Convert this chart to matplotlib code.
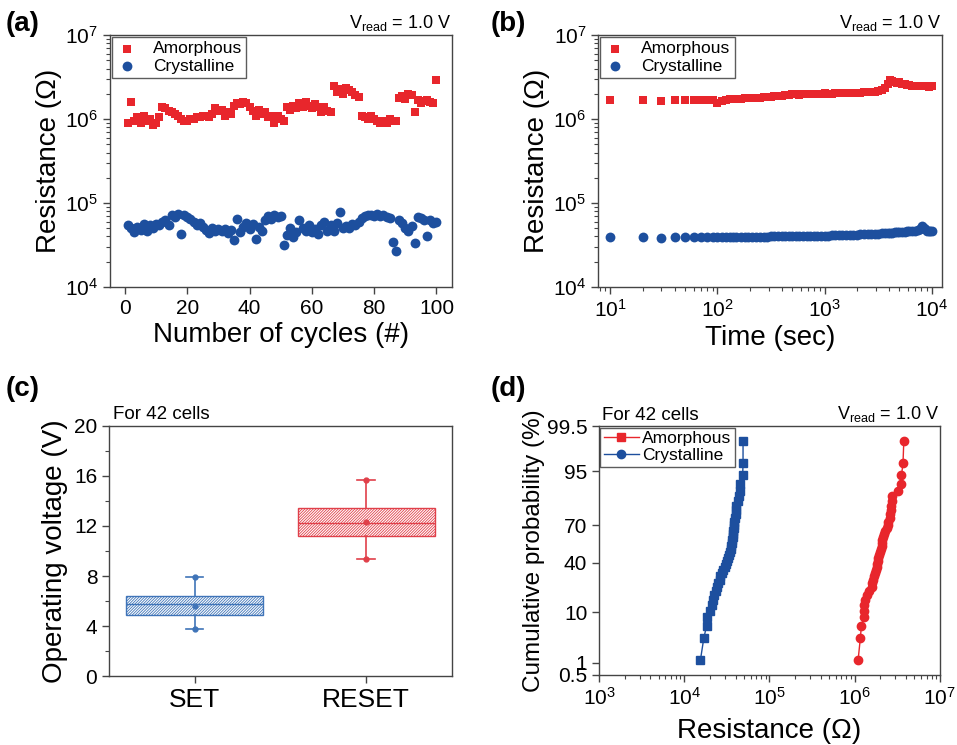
import numpy as np
import matplotlib
matplotlib.use("Agg")
import matplotlib.pyplot as plt
from matplotlib.lines import Line2D
from matplotlib.ticker import LogLocator, NullLocator, FixedLocator, MultipleLocator
from statistics import NormalDist

plt.rcParams["font.family"] = ["Liberation Sans", "DejaVu Sans"]
plt.rcParams["mathtext.fontset"] = "custom"
plt.rcParams["mathtext.rm"] = "Liberation Sans"
plt.rcParams["mathtext.it"] = "Liberation Sans:italic"
plt.rcParams["hatch.linewidth"] = 0.6

RED = "#e8262c"
BLUE = "#1d4f9e"
BOX_BLUE = "#3f74b8"
BOX_RED = "#e0404a"

# (a) endurance
cycles = list(range(1, 101))
amorph_cyc = [0.90, 1.60, 0.95, 1.05, 0.90, 1.10, 0.95, 1.00, 0.85, 0.90,
              1.05, 1.40, 1.35, 1.25, 1.20, 1.15, 1.10, 1.00, 0.95, 0.95,
              1.00, 1.00, 1.05, 1.05, 1.10, 1.10, 1.05, 1.15, 1.35, 1.25,
              1.30, 1.10, 1.20, 1.15, 1.45, 1.55, 1.50, 1.60, 1.55, 1.40,
              1.25, 1.10, 1.30, 1.15, 1.20, 1.05, 1.10, 0.90, 1.10, 1.00,
              0.95, 1.40, 1.30, 1.45, 1.35, 1.55, 1.40, 1.60, 1.45, 1.35,
              1.50, 1.40, 1.20, 1.40, 1.25, 1.20, 2.45, 2.10, 2.30, 2.00,
              2.35, 2.20, 2.10, 1.95, 1.85, 1.10, 1.05, 1.00, 1.10, 1.00,
              0.95, 0.90, 0.95, 0.90, 1.00, 0.95, 0.95, 1.80, 1.90, 1.75,
              2.00, 1.95, 1.20, 1.70, 1.55, 1.65, 1.70, 1.60, 1.55, 2.90]  # x1e6
cryst_cyc = [5.5, 5.0, 4.5, 5.2, 4.8, 5.6, 4.7, 5.4, 5.0, 5.6,
             5.5, 5.9, 6.3, 5.5, 7.2, 6.8, 7.5, 4.3, 7.3, 6.8,
             6.5, 6.0, 5.5, 5.8, 5.2, 4.8, 4.4, 5.0, 4.7, 4.9,
             4.6, 4.9, 4.4, 4.8, 3.6, 6.5, 4.5, 5.2, 5.8, 4.9,
             5.6, 3.7, 5.2, 4.6, 6.2, 7.0, 6.5, 7.3, 6.8, 7.1,
             3.2, 4.2, 5.0, 3.9, 4.5, 6.2, 5.0, 4.6, 5.4, 4.5,
             4.9, 4.3, 5.5, 5.9, 4.7, 5.4, 4.6, 5.8, 7.9, 5.0,
             5.3, 5.1, 5.6, 5.5, 5.9, 6.6, 7.0, 7.2, 7.3, 7.1,
             7.4, 7.0, 7.3, 6.9, 6.7, 3.4, 2.7, 6.3, 5.8, 5.0,
             4.6, 5.3, 3.3, 6.9, 6.6, 6.3, 4.0, 6.2, 5.8, 6.0]  # x1e4

# (b) retention
times = [10, 20, 30, 40, 50, 60, 70, 80, 90, 100,
         110, 120, 130, 140, 150, 165, 180, 195, 210, 230,
         250, 270, 290, 315, 340, 370, 400, 430, 465, 500,
         540, 580, 630, 680, 730, 790, 850, 920, 1000, 1080,
         1170, 1260, 1360, 1470, 1590, 1720, 1860, 2000, 2160, 2340,
         2520, 2720, 2940, 3180, 3430, 3700, 3900, 4100, 4300, 4500,
         4750, 5000, 5300, 5600, 5900, 6200, 6600, 7000, 7400, 7800,
         8100, 8400, 8700, 9000, 9400, 9700, 10000]
amorph_ret = [1.68, 1.68, 1.66, 1.70, 1.70, 1.70, 1.70, 1.70, 1.68, 1.55,
              1.66, 1.70, 1.72, 1.73, 1.74, 1.75, 1.76, 1.77, 1.78, 1.79,
              1.80, 1.81, 1.83, 1.85, 1.86, 1.88, 1.90, 1.92, 1.95, 2.00,
              1.97, 1.96, 1.97, 1.98, 1.99, 2.00, 2.00, 2.01, 2.02, 2.00,
              2.01, 2.02, 2.03, 2.03, 2.04, 2.05, 2.05, 2.06, 2.07, 2.08,
              2.09, 2.10, 2.12, 2.15, 2.20, 2.35, 2.60, 2.90, 2.85, 2.75,
              2.70, 2.75, 2.65, 2.60, 2.55, 2.52, 2.50, 2.50, 2.48, 2.45,
              2.50, 2.45, 2.48, 2.45, 2.40, 2.45, 2.45]  # x1e6
cryst_ret = [3.90, 3.92, 3.88, 3.90, 3.90, 3.92, 3.92, 3.93, 3.93, 3.93,
             3.94, 3.94, 3.95, 3.95, 3.95, 3.96, 3.96, 3.96, 3.97, 3.97,
             3.98, 3.98, 3.99, 4.00, 4.00, 4.01, 4.01, 4.02, 4.02, 4.03,
             4.03, 4.04, 4.04, 4.05, 4.05, 4.06, 4.07, 4.08, 4.08, 4.10,
             4.11, 4.12, 4.13, 4.14, 4.16, 4.17, 4.19, 4.20, 4.22, 4.24,
             4.26, 4.28, 4.30, 4.32, 4.34, 4.37, 4.40, 4.42, 4.44, 4.46,
             4.48, 4.50, 4.53, 4.56, 4.59, 4.62, 4.66, 4.70, 4.74, 4.85,
             5.30, 5.10, 4.85, 4.70, 4.65, 4.70, 4.70]  # x1e4

# (c) operating voltage box stats
box_labels = ["SET", "RESET"]
box_q1 = [4.85, 11.2]
box_q3 = [6.40, 13.4]
box_med = [5.75, 12.25]
box_mean = [5.62, 12.33]
box_lo = [3.73, 9.40]
box_hi = [7.95, 15.65]

# (d) cumulative distribution, 42 cells
cum_prob = [1.19, 3.57, 5.95, 8.33, 10.71, 13.10, 15.48, 17.86, 20.24, 22.62,
            25.00, 27.38, 29.76, 32.14, 34.52, 36.90, 39.29, 41.67, 44.05,
            46.43, 48.81, 51.19, 53.57, 55.95, 58.33, 60.71, 63.10, 65.48,
            67.86, 70.24, 72.62, 75.00, 77.38, 79.76, 82.14, 84.52, 86.90,
            89.29, 91.67, 94.05, 96.43, 98.81]
cryst_cdf = [1.55, 1.70, 1.83, 1.85, 2.00, 2.10, 2.18, 2.25, 2.35, 2.40,
             2.50, 2.60, 2.65, 2.75, 2.87, 3.00, 3.10, 3.20, 3.29, 3.35,
             3.44, 3.50, 3.52, 3.60, 3.62, 3.70, 3.70, 3.74, 3.80, 3.83,
             3.86, 3.90, 4.00, 4.05, 4.10, 4.30, 4.40, 4.50, 4.55, 4.85,
             4.90, 4.90]  # x1e4
amorph_cdf = [1.10, 1.17, 1.20, 1.28, 1.28, 1.30, 1.32, 1.38, 1.48, 1.58,
              1.62, 1.65, 1.70, 1.73, 1.78, 1.81, 1.85, 1.87, 1.90, 1.96,
              1.98, 2.02, 2.07, 2.10, 2.12, 2.16, 2.20, 2.26, 2.37, 2.48,
              2.50, 2.59, 2.62, 2.71, 2.71, 2.75, 2.77, 3.24, 3.46, 3.55,
              3.70, 3.78]  # x1e6
prob_ticks = [0.5, 1, 10, 40, 70, 95, 99.5]

_nd = NormalDist()
_ppf = np.vectorize(_nd.inv_cdf, otypes=[float])
_cdf = np.vectorize(_nd.cdf, otypes=[float])


def prob_fwd(p):
    p = np.clip(np.asarray(p, dtype=float) / 100.0, 1e-9, 1 - 1e-9)
    return _ppf(p)


def prob_inv(z):
    return _cdf(np.asarray(z, dtype=float)) * 100.0


def style_axes(ax):
    for s in ax.spines.values():
        s.set_linewidth(1.0)
        s.set_color("#444444")
    ax.tick_params(which="major", direction="out", length=5, width=1,
                   labelsize=15, top=False, right=False, color="#444444")
    ax.tick_params(which="minor", direction="out", length=3, width=0.8,
                   top=False, right=False, color="#444444")


def log_y(ax):
    ax.set_yscale("log")
    ax.set_ylim(1e4, 1e7)
    ax.yaxis.set_major_locator(LogLocator(base=10, numticks=10))
    ax.yaxis.set_minor_locator(LogLocator(base=10, subs=np.arange(2, 10), numticks=10))


def box_legend(ax, **kw):
    leg = ax.legend(loc="upper left", bbox_to_anchor=(0.006, 0.994), borderaxespad=0,
                    fontsize=12.5, frameon=True, fancybox=False, **kw)
    leg.get_frame().set_edgecolor("#333333")
    leg.get_frame().set_linewidth(1.0)
    return leg


VREAD = r"V$_{\mathrm{read}}$ = 1.0 V"

fig = plt.figure(figsize=(9.57, 7.45), dpi=100)

# ---------- (a)
ax = fig.add_axes([0.115, 0.6148, 0.357, 0.338])
ax.scatter(cycles, np.array(amorph_cyc) * 1e6, marker="s", s=40, color=RED,
           linewidths=0, label="Amorphous", zorder=3)
ax.scatter(cycles, np.array(cryst_cyc) * 1e4, marker="o", s=50, color=BLUE,
           linewidths=0, label="Crystalline", zorder=3)
log_y(ax)
ax.set_xlim(-4.8, 104.9)
ax.xaxis.set_major_locator(MultipleLocator(20))
style_axes(ax)
ax.set_xlabel("Number of cycles (#)", fontsize=20, labelpad=3)
ax.set_ylabel("Resistance (\u03a9)", fontsize=20, labelpad=2)
ax.text(1.0, 1.01, VREAD, transform=ax.transAxes, ha="right", va="bottom", fontsize=13)
box_legend(ax, handletextpad=0.9, labelspacing=0.15, borderpad=0.25, handlelength=1.2)

# ---------- (b)
ax = fig.add_axes([0.625, 0.6148, 0.359, 0.338])
ax.scatter(times, np.array(amorph_ret) * 1e6, marker="s", s=40, color=RED,
           linewidths=0, label="Amorphous", zorder=3)
ax.scatter(times, np.array(cryst_ret) * 1e4, marker="o", s=50, color=BLUE,
           linewidths=0, label="Crystalline", zorder=3)
log_y(ax)
ax.set_xscale("log")
ax.set_xlim(7.7, 1.24e4)
ax.xaxis.set_major_locator(LogLocator(base=10, numticks=10))
ax.xaxis.set_minor_locator(LogLocator(base=10, subs=np.arange(2, 10), numticks=10))
style_axes(ax)
ax.set_xlabel("Time (sec)", fontsize=20, labelpad=3)
ax.set_ylabel("Resistance (\u03a9)", fontsize=20, labelpad=2)
ax.text(1.0, 1.01, VREAD, transform=ax.transAxes, ha="right", va="bottom", fontsize=13)
box_legend(ax, handletextpad=0.9, labelspacing=0.15, borderpad=0.25, handlelength=1.2)

# ---------- (c)
ax = fig.add_axes([0.114, 0.0926, 0.358, 0.3356])
stats = []
for i in range(len(box_labels)):
    stats.append(dict(label=box_labels[i], q1=box_q1[i], q3=box_q3[i], med=box_med[i],
                      mean=box_mean[i], whislo=box_lo[i], whishi=box_hi[i], fliers=[]))
positions = [1, 2]
colors = [BOX_BLUE, BOX_RED]
bp = ax.bxp(stats, positions=positions, widths=0.8, capwidths=0.1, patch_artist=True,
            showmeans=True, showfliers=False)
for i, c in enumerate(colors):
    bp["boxes"][i].set(facecolor="white", edgecolor=c, hatch="////////////", linewidth=1.0)
    bp["medians"][i].set(color=c, linewidth=1.0)
    bp["means"][i].set(marker="o", markersize=3.5, markerfacecolor=c, markeredgecolor=c)
    for w in bp["whiskers"][2 * i:2 * i + 2]:
        w.set(color=c, linewidth=1.2)
    for cp in bp["caps"][2 * i:2 * i + 2]:
        cp.set(color=c, linewidth=1.2)
    ax.plot([positions[i], positions[i]], [box_lo[i], box_hi[i]], ls="none",
            marker="o", markersize=3.5, color=c, zorder=4)
ax.set_xlim(0.5, 2.5)
ax.set_ylim(0, 20)
ax.yaxis.set_major_locator(MultipleLocator(4))
ax.yaxis.set_minor_locator(MultipleLocator(2))
style_axes(ax)
ax.tick_params(axis="x", labelsize=19)
ax.set_ylabel("Operating voltage (V)", fontsize=20, labelpad=4)
ax.text(0.01, 1.01, "For 42 cells", transform=ax.transAxes, ha="left", va="bottom", fontsize=13.5)

# ---------- (d)
ax = fig.add_axes([0.626, 0.094, 0.356, 0.334])
ax.set_yscale("function", functions=(prob_fwd, prob_inv))
ax.plot(np.array(cryst_cdf) * 1e4, cum_prob, marker="s", markersize=5.5, color=BLUE,
        linewidth=1.0, zorder=3)
ax.plot(np.array(amorph_cdf) * 1e6, cum_prob, marker="o", markersize=6, color=RED,
        linewidth=1.0, zorder=3)
ax.set_xscale("log")
ax.set_xlim(1e3, 1e7)
ax.set_ylim(0.5, 99.5)
ax.yaxis.set_major_locator(FixedLocator(prob_ticks))
ax.yaxis.set_minor_locator(NullLocator())
ax.set_yticklabels([f"{t:g}" for t in prob_ticks])
ax.xaxis.set_major_locator(LogLocator(base=10, numticks=10))
ax.xaxis.set_minor_locator(LogLocator(base=10, subs=np.arange(2, 10), numticks=10))
style_axes(ax)
ax.set_xlabel("Resistance (\u03a9)", fontsize=20, labelpad=7)
ax.set_ylabel("Cumulative probability (%)", fontsize=17.5, labelpad=1)
ax.text(0.01, 1.01, "For 42 cells", transform=ax.transAxes, ha="left", va="bottom", fontsize=13.5)
ax.text(1.0, 1.01, VREAD, transform=ax.transAxes, ha="right", va="bottom", fontsize=13)
handles = [Line2D([], [], color=RED, marker="s", markersize=5.5, linewidth=1.0),
           Line2D([], [], color=BLUE, marker="o", markersize=6, linewidth=1.0)]
leg = ax.legend(handles, ["Amorphous", "Crystalline"], loc="upper left",
                bbox_to_anchor=(0.004, 0.994), borderaxespad=0, fontsize=12.5,
                frameon=True, fancybox=False, handletextpad=0.2, labelspacing=0.1,
                borderpad=0.2, handlelength=2.0)
leg.get_frame().set_edgecolor("#333333")
leg.get_frame().set_linewidth(1.0)

# panel letters
for lab, x, y in [("(a)", 0.006, 0.985), ("(b)", 0.513, 0.985),
                  ("(c)", 0.006, 0.495), ("(d)", 0.513, 0.495)]:
    fig.text(x, y, lab, fontsize=20, fontweight="bold", ha="left", va="top")

fig.savefig("out.png", dpi=100)
